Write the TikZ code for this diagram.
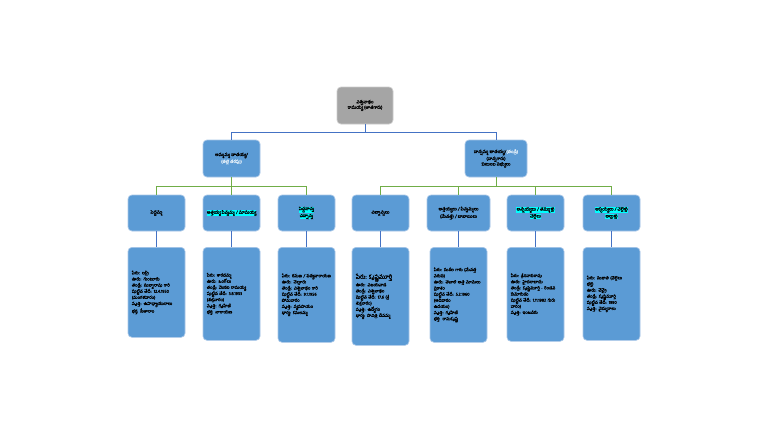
\documentclass[tikz,border=0pt]{standalone}
\usepackage{fontspec}
\newfontfamily\telfont[Script=Telugu,FakeBold=1.2]{Hind Guntur}
\usetikzlibrary{positioning}

\definecolor{boxblue}{HTML}{5B9BD5}
\definecolor{boxedge}{HTML}{A9C7E8}
\definecolor{rootgray}{HTML}{A5A5A5}
\definecolor{linkblue}{HTML}{4472C4}
\definecolor{linkgreen}{HTML}{70AD47}
\definecolor{hlcyan}{HTML}{00FFFF}
\definecolor{palenote}{HTML}{DDEBF7}

\newcommand{\hlc}[1]{{\setlength{\fboxsep}{0.2pt}\colorbox{hlcyan}{#1}}}

\begin{document}
\begin{tikzpicture}[
  x=0.75pt, y=-0.75pt,
  every node/.style={inner sep=1pt},
  card/.style={rounded corners=3pt, fill=boxblue, draw=boxedge, line width=0.5pt,
    minimum width=42.75pt, minimum height=27pt, align=center,
    font=\telfont\fontsize{3.3}{4.1}\selectfont},
  rootcard/.style={card, fill=rootgray, draw=gray!40, minimum width=42pt, minimum height=27.75pt},
  detail/.style={card, align=left, text width=37pt,
    font=\telfont\fontsize{3.2}{4.6}\selectfont},
  toplink/.style={draw=linkblue, line width=0.6pt},
  midlink/.style={draw=linkgreen, line width=0.6pt},
]

% ── Canvas ───────────────────────────────────────────────────────────────────
\useasboundingbox[fill=white] (0,0) rectangle (768,433);

% ── Layout constants (pixel grid of the reference) ───────────────────────────
\def\yhead{213}     % centre line of the third row
\def\ytop{247}      % top edge of the detail cards

% ── Root ─────────────────────────────────────────────────────────────────────
\node[rootcard] (root) at (365,105.5)
  {విశ్వనాథం\\ రామయ్య (తాతగారు)};

% ── Second row ───────────────────────────────────────────────────────────────
\node[card, minimum height=27.75pt] (mat) at (231.5,158.5)
  {అమ్మమ్మ తాతయ్య/\\ \textcolor{palenote}{(తల్లి తరఫు)}};
\node[card, minimum width=46.5pt, minimum height=27.75pt] (pat) at (496,158.5)
  {నాన్నమ్మ తాతయ్య/\textcolor{palenote}{ (తండ్రి)}\\ (నాన్నగారు)\\ కుటుంబ సభ్యులు};

% ── Third row: headings ──────────────────────────────────────────────────────
\node[card] (h1) at (156.5,\yhead) {పెద్దమ్మ};
\node[card] (h2) at (231.5,\yhead) {\hlc{అత్తయ్య పిన్నమ్మ / మామయ్య}};
\node[card] (h3) at (306.5,\yhead) {\hlc{పెద్దనాన్న}\\[-0.3pt]\hlc{చిన్నాన్న}};
\node[card] (h4) at (380.5,\yhead) {చిన్నాన్నలు};
\node[card, minimum width=47.25pt] (h5) at (458.5,\yhead)
  {అత్తయ్యలు / పిన్నమ్మలు\\ (మేనత్త) / బాబాయిలు};
\node[card] (h6) at (535.5,\yhead) {\hlc{అన్నయ్యలు / తమ్ముళ్లు}\\[-0.3pt]\hlc{చెల్లెలు}};
\node[card] (h7) at (611.5,\yhead) {\hlc{అక్కయ్యలు / చెల్లెళ్లు}\\[-0.3pt]\hlc{అల్లుళ్లు}};

% ── Detail cards ─────────────────────────────────────────────────────────────
\node[detail, minimum height=67.5pt, anchor=north] (d1) at (156.5,\ytop)
  {పేరు: లక్ష్మి\\ ఊరు: గుంటూరు\\ తండ్రి: సుబ్బారావు గారి\\ పుట్టిన తేదీ: 12.4.1950\\ (మంగళవారం)\\ వృత్తి: ఉపాధ్యాయురాలు\\ భర్త: సీతారాం};
\node[detail, minimum height=69.75pt, anchor=north] (d2) at (231.5,\ytop)
  {పేరు: శారదమ్మ\\ ఊరు: ఒంగోలు\\ తండ్రి: వెంకట రామయ్య\\ పుట్టిన తేదీ: 3.8.1953\\ (శుక్రవారం)\\ వృత్తి: గృహిణి\\ భర్త: నారాయణ};
\node[detail, minimum height=71.25pt, anchor=north] (d3) at (306.5,\ytop)
  {పేరు: రమణ / సత్యనారాయణ\\ ఊరు: నెల్లూరు\\ తండ్రి: విశ్వనాథం గారి\\ పుట్టిన తేదీ: 9.1.1956 సోమవారం\\ వృత్తి: వ్యవసాయం\\ భార్య: కమలమ్మ};
\node[detail, minimum height=73.5pt, anchor=north] (d4) at (380.5,\ytop)
  {{\fontsize{4.4}{5.4}\selectfont పేరు: కృష్ణమూర్తి}\\ ఊరు: విజయవాడ\\ తండ్రి: విశ్వనాథం\\ పుట్టిన తేదీ: 17.6 (శ్రీ\\ శుక్రవారం)\\ వృత్తి: ఉద్యోగం\\ భార్య: సావిత్రి దేవమ్మ};
\node[detail, minimum height=71.25pt, anchor=north] (d5) at (458.5,\ytop)
  {పేరు: సుశీల గారు (మేనత్త\\ వరుస)\\ ఊరు: తెనాలి అత్త మామలు\\ ప్రకాశం\\ పుట్టిన తేదీ: 5.2.1960 (ఆదివారం\\ ఉదయం)\\ వృత్తి: గృహిణి\\ భర్త: రామకృష్ణ};
\node[detail, minimum height=70.5pt, anchor=north] (d6) at (535.5,\ytop)
  {పేరు: శ్రీనివాసరావు\\ ఊరు: హైదరాబాదు\\ తండ్రి: కృష్ణమూర్తి - రెండవ\\ కుమారుడు\\ పుట్టిన తేదీ: 1.11.1982 గురు\\ వారం)\\ వృత్తి: ఇంజనీరు};
\node[detail, minimum height=69.75pt, anchor=north] (d7) at (611.5,\ytop)
  {పేరు: సుజాత (చెల్లెలు\\ భర్త)\\ ఊరు: చెన్నై\\ తండ్రి: కృష్ణమూర్తి\\ పుట్టిన తేదీ: 1990\\ వృత్తి: వైద్యురాలు};

% ── Connectors ───────────────────────────────────────────────────────────────
% root to second row
\draw[toplink] (root.south) -- ++(0,8) -| (mat.north);
\draw[toplink] (root.south) -- ++(0,8) -| (pat.north);

% second row to headings
\foreach \h in {h1,h2,h3}
  \draw[midlink] (mat.south) -- ++(0,9) -| (\h.north);
\foreach \h in {h4,h5,h6,h7}
  \draw[midlink] (pat.south) -- ++(0,9) -| (\h.north);

% headings to detail cards
\foreach \i in {1,...,7}
  \draw[toplink] (h\i.south) -- (d\i.north);

\end{tikzpicture}
\end{document}
